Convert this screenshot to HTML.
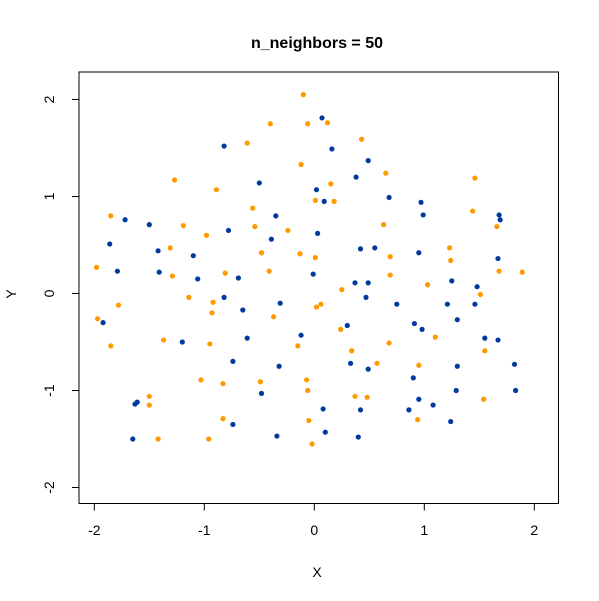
<!DOCTYPE html>
<html><head><meta charset="utf-8"><style>
body{margin:0;background:#fff;}
svg{display:block;font-family:"Liberation Sans",Arial,sans-serif;}
</style></head><body>
<svg id="chart" width="599" height="601" viewBox="0 0 599 601">
<text x="317" y="48" text-anchor="middle" font-size="16" font-weight="bold">n_neighbors = 50</text>
<rect x="79" y="72" width="479.5" height="431.5" fill="none" stroke="#000" stroke-width="1"/>
<g id="axes"></g>
<g id="points"></g>
<text x="317" y="577" text-anchor="middle" font-size="14">X</text>
<text x="16" y="294" text-anchor="middle" font-size="14" transform="rotate(-90 16 294)">Y</text>
</svg>
<script>
const xTicks=[-2,-1,0,1,2];
const yTicks=[-2,-1,0,1,2];
const orangeX=[-0.10,-0.40,-0.06,-0.61,-0.12,-1.27,-0.89,0.01,-0.56,-1.85,-1.19,-0.54,-0.24,-0.98,-1.31,-0.48,-0.13,0.01,-1.98,-0.41,-1.29,-0.81,-1.14,0.12,0.43,0.65,0.15,1.46,0.18,1.44,0.63,1.66,1.23,0.69,1.24,1.68,1.89,0.69,1.03,0.25,1.51,-1.78,-1.97,-0.92,-0.93,-0.37,0.02,-1.85,-1.37,-0.95,-0.15,-1.03,-0.83,-0.49,-0.07,-0.06,-1.50,-1.50,-0.83,-0.05,-1.42,-0.96,-0.02,0.06,0.24,0.68,1.10,0.34,1.55,0.57,0.95,0.37,0.48,1.54,0.94];
const orangeY=[2.05,1.75,1.75,1.55,1.33,1.17,1.07,0.96,0.88,0.80,0.70,0.69,0.65,0.60,0.47,0.42,0.41,0.37,0.27,0.23,0.18,0.21,-0.04,1.76,1.59,1.24,1.13,1.19,0.95,0.85,0.71,0.69,0.47,0.38,0.34,0.23,0.22,0.19,0.09,0.04,-0.01,-0.12,-0.26,-0.09,-0.20,-0.24,-0.14,-0.54,-0.48,-0.52,-0.54,-0.89,-0.93,-0.91,-0.89,-1.00,-1.06,-1.15,-1.29,-1.31,-1.50,-1.50,-1.55,-0.11,-0.37,-0.51,-0.45,-0.59,-0.59,-0.72,-0.74,-1.06,-1.07,-1.09,-1.30];
const blueX=[-0.82,-0.50,0.02,-1.72,-1.50,-0.35,-0.78,0.03,-1.86,-1.42,-0.39,-1.10,-1.79,-1.41,-1.06,-0.69,-0.01,-0.82,0.07,0.16,0.49,0.38,0.09,0.68,0.97,0.99,1.68,1.69,0.42,0.55,0.95,1.67,0.37,0.49,1.25,1.48,0.47,-0.65,-0.31,-1.92,-1.20,-0.61,-0.12,-0.74,-0.32,-0.48,-1.61,-1.63,-0.74,-0.34,-1.65,0.75,1.21,1.46,1.30,0.30,0.91,0.98,1.55,1.67,0.33,0.49,1.30,1.82,0.90,1.29,1.83,0.95,0.08,0.42,0.86,1.08,1.24,0.10,0.40];
const blueY=[1.52,1.14,1.07,0.76,0.71,0.80,0.65,0.62,0.51,0.44,0.56,0.39,0.23,0.22,0.15,0.16,0.20,-0.04,1.81,1.49,1.37,1.20,0.95,0.99,0.94,0.81,0.81,0.76,0.46,0.47,0.42,0.36,0.11,0.11,0.13,0.07,-0.04,-0.17,-0.10,-0.30,-0.50,-0.46,-0.43,-0.70,-0.75,-1.03,-1.12,-1.14,-1.35,-1.47,-1.50,-0.11,-0.11,-0.11,-0.27,-0.33,-0.31,-0.37,-0.46,-0.48,-0.72,-0.78,-0.75,-0.73,-0.87,-1.00,-1.00,-1.09,-1.19,-1.20,-1.20,-1.15,-1.32,-1.43,-1.48];

const NS='http://www.w3.org/2000/svg';
const sx=v=>314.3+110*v;
const sy=v=>293.5-97*v;
const axes=document.getElementById('axes');
const pts=document.getElementById('points');
function mk(tag,attrs,parent){const e=document.createElementNS(NS,tag);for(const k in attrs)e.setAttribute(k,attrs[k]);parent.appendChild(e);return e;}

let l=mk('line',{x1:sx(xTicks[0]),x2:sx(xTicks[xTicks.length-1]),y1:503.5,y2:503.5,stroke:'#000'},axes);


xTicks.forEach(t=>{
  const tk=mk('line',{x1:sx(t),x2:sx(t),y1:503.5,y2:510.5,stroke:'#000'},axes);
  
  
  const tx=mk('text',{x:sx(t),y:535,'text-anchor':'middle','font-size':'14'},axes);
  tx.textContent=t;
  
  
});
l=mk('line',{x1:79,x2:79,y1:sy(yTicks[0]),y2:sy(yTicks[yTicks.length-1]),stroke:'#000'},axes);


yTicks.forEach(t=>{
  const tk=mk('line',{x1:72,x2:79,y1:sy(t),y2:sy(t),stroke:'#000'},axes);
  
  
  const tx=mk('text',{x:54,y:sy(t),'text-anchor':'middle','font-size':'14',transform:`rotate(-90 54 ${sy(t)})`},axes);
  tx.textContent=t;
  
  
});
orangeX.forEach((x,i)=>{
  const c=mk('circle',{cx:sx(x),cy:sy(orangeY[i]),r:2.6,fill:'#FF9900'},pts);
  
  
});
blueX.forEach((x,i)=>{
  const c=mk('circle',{cx:sx(x),cy:sy(blueY[i]),r:2.6,fill:'#003A9E'},pts);
  
  
});
</script>
</body></html>
